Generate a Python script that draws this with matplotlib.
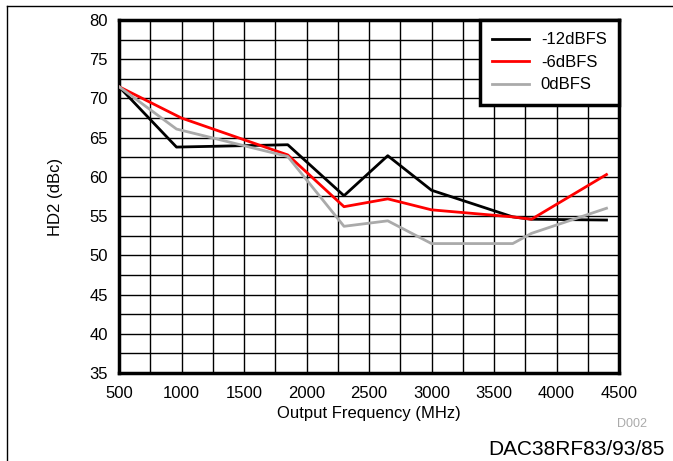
import matplotlib
matplotlib.use("Agg")
import matplotlib.pyplot as plt
from matplotlib.lines import Line2D
from matplotlib.ticker import MultipleLocator

plt.rcParams['font.family'] = ['Liberation Sans', 'DejaVu Sans']

# valeurs
freq_12 = [500, 960, 1850, 2300, 2650, 3000, 3650, 3800, 4400]
hd2_12 = [71.5, 63.8, 64.1, 57.6, 62.7, 58.3, 54.9, 54.6, 54.5]

freq_6 = [500, 1000, 1850, 2300, 2650, 3000, 3650, 3800, 4400]
hd2_6 = [71.5, 67.5, 62.8, 56.2, 57.2, 55.8, 54.9, 54.6, 60.3]

freq_0 = [500, 960, 1850, 2300, 2650, 3000, 3650, 3800, 4400]
hd2_0 = [71.5, 66.1, 62.6, 53.7, 54.4, 51.5, 51.5, 52.8, 56.0]

fig = plt.figure(figsize=(6.73, 4.61), dpi=100)
ax = fig.add_axes([119 / 673, 1 - 373 / 461, 500 / 673, 353 / 461])

ax.plot(freq_12, hd2_12, color='black', lw=2, label='-12dBFS', zorder=3)
ax.plot(freq_6, hd2_6, color='#ff0000', lw=2, label='-6dBFS', zorder=3)
ax.plot(freq_0, hd2_0, color='#aaaaaa', lw=2, label='0dBFS', zorder=3)

ax.set_xlim(500, 4500)
ax.set_ylim(35, 80)
ax.xaxis.set_major_locator(MultipleLocator(500))
ax.xaxis.set_minor_locator(MultipleLocator(250))
ax.yaxis.set_major_locator(MultipleLocator(5))
ax.yaxis.set_minor_locator(MultipleLocator(2.5))
ax.grid(which='both', color='black', lw=1)
ax.tick_params(which='both', length=0, labelsize=12)
ax.tick_params(axis='x', pad=9)
ax.tick_params(axis='y', pad=8)
for s in ax.spines.values():
    s.set_linewidth(2.5)

ax.set_xlabel('Output Frequency (MHz)', fontsize=12, labelpad=4)
ax.set_ylabel('HD2 (dBc)', fontsize=12, labelpad=19)

leg = ax.legend(loc='upper right', fontsize=12, fancybox=False, framealpha=1,
                borderaxespad=0, handlelength=2.2, handletextpad=0.7,
                labelspacing=0.45, borderpad=0.75)
leg.get_frame().set_edgecolor('black')
leg.get_frame().set_linewidth(2.5)

fig.text(647 / 673, 1 - 424 / 461, 'D002', fontsize=9, color='#aaaaaa',
         ha='right', va='center')
fig.text(665 / 673, 1 - 455 / 461, 'DAC38RF83/93/85', fontsize=15,
         ha='right', va='baseline')

# cadre autour de la figure (haut et gauche)
fig.add_artist(Line2D([7 / 673, 1], [1 - 6 / 461, 1 - 6 / 461], color='black', lw=1))
fig.add_artist(Line2D([7 / 673, 7 / 673], [0, 1 - 6 / 461], color='black', lw=1))

fig.savefig('out.png', dpi=100)
